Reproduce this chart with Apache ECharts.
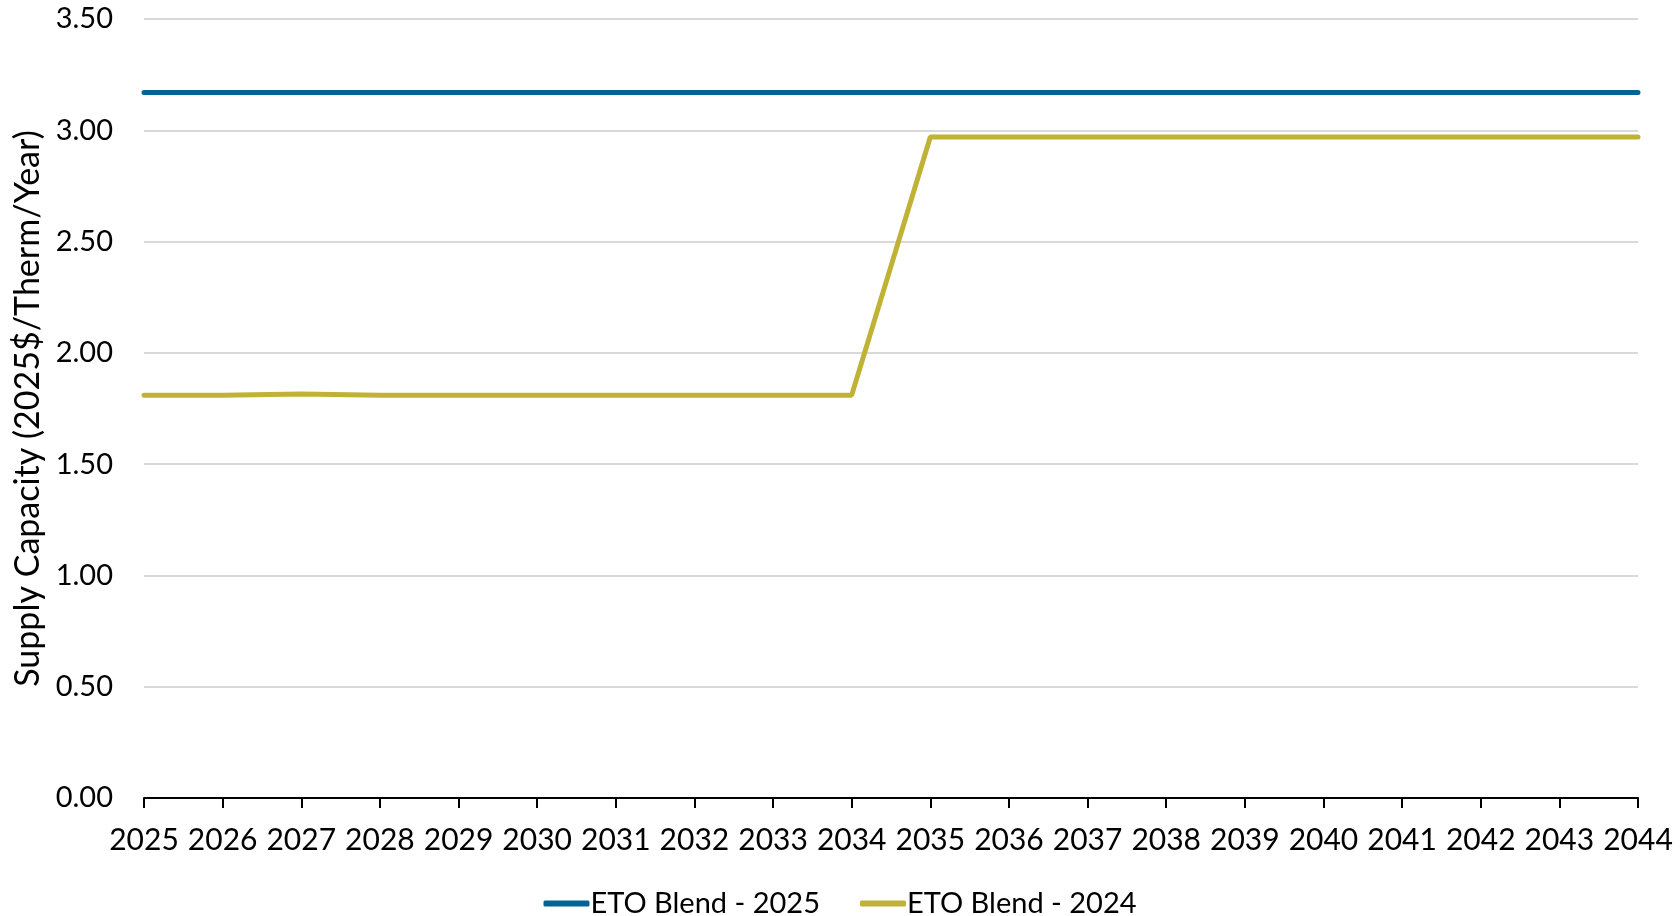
<!DOCTYPE html>
<html>
<head>
<meta charset="utf-8">
<script src="https://cdn.jsdelivr.net/npm/echarts@6/dist/echarts.min.js"></script>
<style>
  html, body { margin: 0; padding: 0; background: #ffffff; }
  #chart { width: 1680px; height: 916px; }
</style>
</head>
<body>
<div id="chart"></div>
<script>
// Years on the horizontal axis
const years = ['2025','2026','2027','2028','2029','2030','2031','2032','2033','2034',
               '2035','2036','2037','2038','2039','2040','2041','2042','2043','2044'];

// Supply capacity cost, 2025$/Therm/Year
const blend2025 = [3.17,3.17,3.17,3.17,3.17,3.17,3.17,3.17,3.17,3.17,
                   3.17,3.17,3.17,3.17,3.17,3.17,3.17,3.17,3.17,3.17];
const blend2024 = [1.81,1.81,1.815,1.81,1.81,1.81,1.81,1.81,1.81,1.81,
                   2.97,2.97,2.97,2.97,2.97,2.97,2.97,2.97,2.97,2.97];

const seriesNames = ['ETO Blend - 2025', 'ETO Blend - 2024'];
const yAxisTitle = 'Supply Capacity (2025$/Therm/Year)';

const FONT = 'Lato';
const chart = echarts.init(document.getElementById('chart'));

chart.setOption({
  animation: false,
  backgroundColor: '#ffffff',
  textStyle: { fontFamily: FONT },
  grid: { left: 144, right: 42, top: 19, bottom: 118, containLabel: false },
  legend: {
    top: 884,
    left: 'center',
    itemWidth: 46,
    itemHeight: 6,
    itemGap: 40,
    icon: 'roundRect',
    textStyle: { fontFamily: FONT, fontSize: 29, color: '#000000', padding: [0, 0, 0, -4] },
    data: seriesNames
  },
  xAxis: {
    type: 'category',
    data: years,
    boundaryGap: false,
    axisLine: { lineStyle: { color: '#000000', width: 2 } },
    axisTick: { show: true, length: 10, lineStyle: { color: '#000000', width: 2 } },
    axisLabel: { fontFamily: FONT, fontSize: 30, color: '#000000', margin: 27, interval: 0 },
    splitLine: { show: false }
  },
  yAxis: {
    type: 'value',
    min: 0,
    max: 3.5,
    interval: 0.5,
    name: yAxisTitle,
    nameLocation: 'middle',
    nameGap: 96,
    nameRotate: 90,
    nameTextStyle: { fontFamily: FONT, fontSize: 34, color: '#000000' },
    axisLine: { show: false },
    axisTick: { show: false },
    axisLabel: {
      fontFamily: FONT, fontSize: 29, color: '#000000', margin: 31,
      formatter: v => v.toFixed(2)
    },
    splitLine: { lineStyle: { color: '#d9d9d9', width: 2 } }
  },
  series: [
    {
      name: seriesNames[0],
      type: 'line',
      data: blend2025,
      showSymbol: false,
      symbol: 'none',
      color: '#006594',
      lineStyle: { width: 5, color: '#006594', cap: 'round' },
      z: 3
    },
    {
      name: seriesNames[1],
      type: 'line',
      data: blend2024,
      showSymbol: false,
      symbol: 'none',
      color: '#bfb235',
      lineStyle: { width: 5, color: '#bfb235', cap: 'round' },
      z: 2
    }
  ]
});
</script>
</body>
</html>
